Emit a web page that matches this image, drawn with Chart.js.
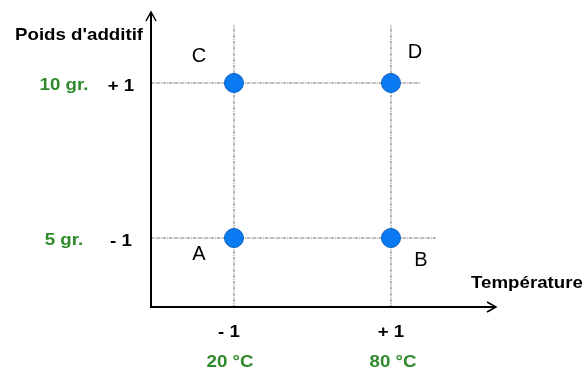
<!DOCTYPE html>
<html>
<head>
<meta charset="utf-8">
<script src="https://cdn.jsdelivr.net/npm/chart.js@4"></script>
<style>
  html, body { margin: 0; padding: 0; background: #fff; }
  #wrap { width: 585px; height: 372px; }
</style>
</head>
<body>
<div id="wrap"><canvas id="chart" width="585" height="372"></canvas></div>
<script>
// coded levels of the two factors
const levels = [-1, 1];
const levelLabels = ['- 1', '+ 1'];
const tempLabels = ['20 °C', '80 °C'];
const weightLabels = ['5 gr.', '10 gr.'];
// experiment runs
const runNames = ['A', 'B', 'C', 'D'];
const runX = [-1, 1, -1, 1];
const runY = [-1, -1, 1, 1];

const green = '#2e8a2a';
const font = '"Liberation Sans", Arial, sans-serif';

const points = runX.map((x, i) => ({ x: x, y: runY[i] }));

// dotted guide lines through each level
const guides = [
    { data: [{ x: -1, y: -1.9 }, { x: -1, y: 1.75 }] },
    { data: [{ x: 1, y: -1.9 }, { x: 1, y: 1.75 }] },
    { data: [{ x: -2.06, y: 1 }, { x: 1.38, y: 1 }] },
    { data: [{ x: -2.06, y: -1 }, { x: 1.57, y: -1 }] },
].map(g => ({
    type: 'line',
    data: g.data,
    borderColor: '#6a6a6a',
    borderWidth: 1,
    borderDash: [3, 1, 1, 1],
    pointRadius: 0,
    order: 2,
}));

// the bold labels of the original are a bit wider than Liberation Sans
function wideText(ctx, text, x, y) {
    ctx.save();
    ctx.translate(x, y);
    ctx.scale(1.1, 1);
    ctx.fillText(text, 0, 0);
    ctx.restore();
}

const drawAnnotations = {
    id: 'annotations',
    afterDatasetsDraw(chart) {
        const { ctx, chartArea, scales } = chart;
        const xs = scales.x, ys = scales.y;
        ctx.save();

        // axes with arrow heads
        ctx.strokeStyle = '#000';
        ctx.lineWidth = 2;
        ctx.beginPath();
        ctx.moveTo(chartArea.left, chartArea.top);
        ctx.lineTo(chartArea.left, chartArea.bottom);
        ctx.lineTo(chartArea.right, chartArea.bottom);
        ctx.stroke();
        ctx.lineWidth = 1.5;
        ctx.beginPath();
        ctx.moveTo(chartArea.left - 5, chartArea.top + 9);
        ctx.lineTo(chartArea.left, chartArea.top);
        ctx.lineTo(chartArea.left + 5, chartArea.top + 9);
        ctx.moveTo(chartArea.right - 9, chartArea.bottom - 5);
        ctx.lineTo(chartArea.right, chartArea.bottom);
        ctx.lineTo(chartArea.right - 9, chartArea.bottom + 5);
        ctx.stroke();

        ctx.textBaseline = 'middle';
        ctx.textAlign = 'center';
        ctx.font = 'bold 17px ' + font;

        // x levels
        const levelShift = [-5, 0];
        const tempShift = [-4, 2];
        levels.forEach((v, i) => {
            const px = xs.getPixelForValue(v);
            ctx.fillStyle = '#000';
            wideText(ctx, levelLabels[i], px + levelShift[i], chartArea.bottom + 25);
            ctx.fillStyle = green;
            wideText(ctx, tempLabels[i], px + tempShift[i], chartArea.bottom + 55);
        });

        // y levels
        levels.forEach((v, i) => {
            const py = ys.getPixelForValue(v);
            ctx.fillStyle = '#000';
            wideText(ctx, levelLabels[i], chartArea.left - 30, py + 3);
            ctx.fillStyle = green;
            wideText(ctx, weightLabels[i], chartArea.left - 87, py + 2);
        });

        // axis titles
        ctx.fillStyle = '#000';
        ctx.textAlign = 'left';
        wideText(ctx, "Poids d'additif", 15, 35);
        wideText(ctx, 'Température', 471, 283);

        // run letters
        ctx.font = '20px ' + font;
        ctx.textAlign = 'center';
        const offs = [[-35, 16], [30, 22], [-35, -27], [24, -31]];
        runNames.forEach((n, i) => {
            const px = xs.getPixelForValue(runX[i]);
            const py = ys.getPixelForValue(runY[i]);
            ctx.fillText(n, px + offs[i][0], py + offs[i][1]);
        });
        ctx.restore();
    }
};

new Chart(document.getElementById('chart'), {
    type: 'scatter',
    data: {
        datasets: [
            {
                data: points,
                backgroundColor: '#0a7af2',
                borderColor: '#0a5fc0',
                borderWidth: 1,
                pointRadius: 9.5,
                order: 1,
            },
            ...guides,
        ],
    },
    options: {
        responsive: false,
        animation: false,
        layout: { padding: { left: 151, right: 89, top: 12, bottom: 65 } },
        plugins: {
            legend: { display: false },
            tooltip: { enabled: false },
        },
        scales: {
            x: { type: 'linear', min: -2.057, max: 2.338, display: false },
            y: { type: 'linear', min: -1.89, max: 1.916, display: false },
        },
    },
    plugins: [drawAnnotations],
});
</script>
</body>
</html>
